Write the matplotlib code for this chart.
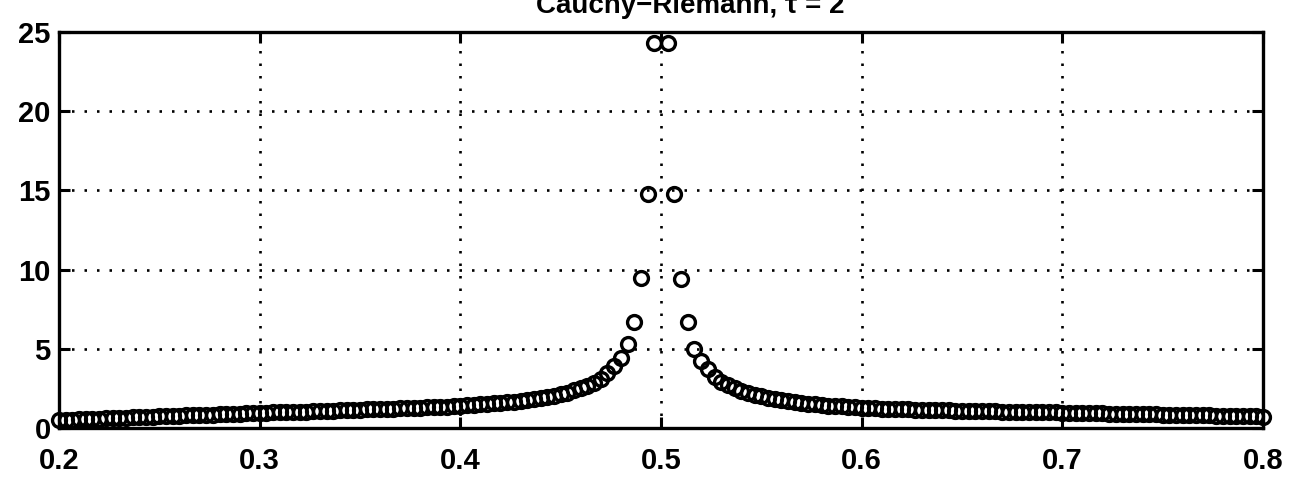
import numpy as np
import matplotlib
matplotlib.use("Agg")
import matplotlib.pyplot as plt

# Sample grid: step 1/300 on [0.2, 0.8], the singular point x = 0.5 is left out
x_left = np.arange(60, 150) / 300.0
x_right = np.arange(151, 241) / 300.0

# Left branch values, x = 0.2 ... 0.4967
y_left = [
    0.50, 0.52, 0.53, 0.55, 0.56, 0.58, 0.59, 0.61, 0.62, 0.64,
    0.65, 0.67, 0.68, 0.70, 0.71, 0.73, 0.74, 0.76, 0.77, 0.79,
    0.80, 0.82, 0.83, 0.85, 0.86, 0.88, 0.89, 0.91, 0.92, 0.94,
    0.95, 0.96, 0.98, 0.99, 1.00, 1.02, 1.03, 1.04, 1.06, 1.07,
    1.08, 1.10, 1.11, 1.12, 1.14, 1.15, 1.17, 1.18, 1.19, 1.21,
    1.22, 1.24, 1.25, 1.27, 1.28, 1.30, 1.31, 1.33, 1.35, 1.37,
    1.40, 1.43, 1.46, 1.49, 1.52, 1.55, 1.59, 1.63, 1.67, 1.71,
    1.76, 1.81, 1.87, 1.94, 2.02, 2.12, 2.24, 2.38, 2.52, 2.65,
    2.85, 3.10, 3.50, 3.90, 4.40, 5.30, 6.70, 9.50, 14.8, 24.3,
]

# Right branch values, x = 0.5033 ... 0.8
y_right = [
    24.3, 14.8, 9.40, 6.70, 5.00, 4.20, 3.70, 3.20, 2.90, 2.70,
    2.50, 2.35, 2.22, 2.10, 2.00, 1.91, 1.83, 1.76, 1.70, 1.64,
    1.59, 1.54, 1.50, 1.46, 1.42, 1.39, 1.36, 1.33, 1.30, 1.28,
    1.25, 1.24, 1.22, 1.21, 1.20, 1.19, 1.17, 1.16, 1.15, 1.14,
    1.13, 1.12, 1.11, 1.10, 1.09, 1.08, 1.07, 1.06, 1.05, 1.05,
    1.04, 1.03, 1.02, 1.02, 1.01, 1.00, 0.99, 0.99, 0.98, 0.97,
    0.96, 0.95, 0.95, 0.94, 0.93, 0.92, 0.91, 0.91, 0.90, 0.89,
    0.88, 0.87, 0.86, 0.86, 0.85, 0.84, 0.83, 0.82, 0.81, 0.80,
    0.79, 0.79, 0.78, 0.77, 0.76, 0.75, 0.74, 0.74, 0.73, 0.72,
]

x_ticks = [0.2, 0.3, 0.4, 0.5, 0.6, 0.7, 0.8]
x_tick_labels = ["0.2", "0.3", "0.4", "0.5", "0.6", "0.7", "0.8"]
y_ticks = [0, 5, 10, 15, 20, 25]
y_tick_labels = ["0", "5", "10", "15", "20", "25"]
title_text = "Cauchy\u2212Riemann, \u03c4 = 2"

plt.rcParams["font.family"] = ["Liberation Sans", "DejaVu Sans"]
plt.rcParams["lines.scale_dashes"] = False

W, H = 1307, 495
fig = plt.figure(figsize=(W / 100, H / 100), dpi=100)
fig.patch.set_facecolor("white")

left, right, top, bottom = 59, 1263, 32, 428
ax = fig.add_axes([left / W, 1 - bottom / H, (right - left) / W, (bottom - top) / H])

x_all = np.concatenate([x_left, x_right])
y_all = np.concatenate([y_left, y_right])
ax.plot(x_all, y_all, linestyle="none", marker="o", markersize=10,
        markerfacecolor="none", markeredgecolor="black", markeredgewidth=2.4,
        clip_on=False, zorder=3)

ax.set_xlim(0.2, 0.8)
ax.set_ylim(0, 25)
ax.set_xticks(x_ticks)
ax.set_xticklabels(x_tick_labels)
ax.set_yticks(y_ticks)
ax.set_yticklabels(y_tick_labels)

ax.grid(True, color="black", linestyle=(0, (1.8, 7.2)), linewidth=1.9)
ax.set_axisbelow(True)

for sp in ax.spines.values():
    sp.set_linewidth(2.4)
    sp.set_color("black")

ax.tick_params(axis="both", direction="in", length=8, width=2.2,
               top=True, right=True, labelsize=21, colors="black")
ax.tick_params(axis="x", pad=14)
ax.tick_params(axis="y", pad=6)
for lab in ax.get_xticklabels() + ax.get_yticklabels():
    lab.set_fontweight("bold")

fig.text(690 / W, 1 - 13 / H, title_text, ha="center", va="baseline",
         fontsize=20, fontweight="bold", color="black")

fig.savefig("out.png", dpi=100, facecolor="white")
